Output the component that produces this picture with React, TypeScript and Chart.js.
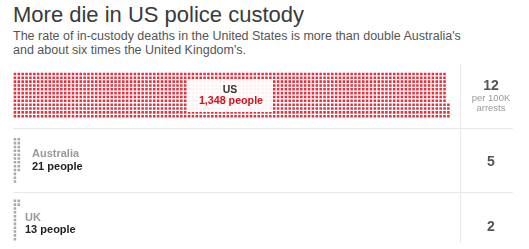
import React, { useEffect, useRef } from "react";
import { Chart, registerables } from "chart.js";
Chart.register(...registerables);

// ---- data ----
const countries = ["US", "Australia", "UK"];
const people = [1348, 21, 13];
const ratePer100K = [12, 5, 2];
const peopleLabels = ["1,348 people", "21 people", "13 people"];
const titleText = "More die in US police custody";
const subtitleLines = [
  "The rate of in-custody deaths in the United States is more than double Australia's",
  "and about six times the United Kingdom's.",
];

// ---- layout (not data) ----
const W = 529;
const H = 249;
const PITCH = 3.87;
const GRID_LEFT = 13;
const GRID_TOP = 72;
const X_UNITS = 113;
const Y_UNITS = 45;
const rowsPerColumn = [12, 12, 11];
const rowOffset = [0, 17, 33];
const remainderAtBottom = [true, false, false];
const dotColor = ["#e2323f", "#a9a9a9", "#a9a9a9"];
const FONT = "'Liberation Sans', Arial, Helvetica, sans-serif";

function buildDots(i: number) {
  const n = people[i];
  const R = rowsPerColumn[i];
  const full = Math.floor(n / R);
  const rem = n % R;
  const pts: { x: number; y: number }[] = [];
  for (let k = 0; k < n; k++) {
    const col = Math.floor(k / R);
    let r = k % R;
    if (col === full && remainderAtBottom[i]) r = R - rem + r;
    pts.push({ x: col + 0.5, y: rowOffset[i] + r + 0.5 });
  }
  return pts;
}

function T(props: {
  text: string;
  x: number;
  baseline: number;
  size: number;
  color: string;
  weight?: number | string;
  align?: "left" | "center";
  width?: number;
}) {
  const { text, x, baseline, size, color, weight = 400, align = "left", width = 80 } = props;
  const top = baseline - size / 2 - 0.3465 * size;
  const style: React.CSSProperties = {
    position: "absolute",
    top,
    fontFamily: FONT,
    fontSize: size,
    lineHeight: `${size}px`,
    color,
    fontWeight: weight as any,
    whiteSpace: "nowrap",
  };
  if (align === "center") {
    style.left = x - width / 2;
    style.width = width;
    style.textAlign = "center";
  } else {
    style.left = x;
  }
  return <div style={style}>{text}</div>;
}

export default function App() {
  const ref = useRef<HTMLCanvasElement | null>(null);

  useEffect(() => {
    document.body.style.margin = "0";
    const canvas = ref.current!;
    const chart = new Chart(canvas, {
      type: "scatter",
      data: {
        datasets: countries.map((c, i) => ({
          label: c,
          data: buildDots(i),
          pointStyle: "rect" as const,
          pointRadius: 1.8,
          pointBackgroundColor: dotColor[i],
          pointBorderWidth: 0,
          borderWidth: 0,
        })),
      },
      options: {
        animation: false,
        responsive: false,
        devicePixelRatio: 1,
        events: [],
        layout: {
          padding: {
            left: GRID_LEFT,
            right: W - (GRID_LEFT + X_UNITS * PITCH),
            top: GRID_TOP,
            bottom: H - (GRID_TOP + Y_UNITS * PITCH),
          },
        },
        plugins: { legend: { display: false }, tooltip: { enabled: false } },
        scales: {
          x: { type: "linear", min: 0, max: X_UNITS, display: false },
          y: { type: "linear", min: 0, max: Y_UNITS, reverse: true, display: false },
        },
      },
    });
    return () => chart.destroy();
  }, []);

  const line = (s: React.CSSProperties) => (
    <div style={{ position: "absolute", background: "#e8e8e8", ...s }} />
  );

  return (
    <div style={{ position: "absolute", left: 0, top: 0, width: W, height: H, background: "#fff", overflow: "hidden" }}>
      <T text={titleText} x={13} baseline={23} size={22} color="#3a3a3a" />
      <T text={subtitleLines[0]} x={13} baseline={41} size={12.5} color="#555" />
      <T text={subtitleLines[1]} x={13} baseline={54.5} size={12.5} color="#555" />
      {line({ left: 13, top: 128, width: 500, height: 1 })}
      {line({ left: 13, top: 192, width: 500, height: 1 })}
      {line({ left: 460, top: 64, width: 1, height: 179 })}
      <canvas ref={ref} width={W} height={H} style={{ position: "absolute", left: 0, top: 0, width: W, height: H }} />
      <div style={{ position: "absolute", left: 187, top: 79, width: 86, height: 33, background: "rgba(255,255,255,0.93)" }} />
      <T text={countries[0]} x={230} baseline={93} size={10.5} color="#333" weight={700} align="center" width={86} />
      <T text={peopleLabels[0]} x={231} baseline={104.5} size={10.7} color="#d4111d" weight={700} align="center" width={86} />
      <T text={countries[1]} x={32} baseline={157} size={11} color="#999" weight={700} />
      <T text={peopleLabels[1]} x={32} baseline={170} size={11} color="#222" weight={700} />
      <T text={countries[2]} x={25} baseline={221.5} size={11} color="#999" weight={700} />
      <T text={peopleLabels[2]} x={25} baseline={233} size={11} color="#222" weight={700} />
      <T text={String(ratePer100K[0])} x={491} baseline={89.5} size={14} color="#555" weight={700} align="center" />
      <T text="per 100K" x={491} baseline={101.5} size={9.5} color="#999" align="center" />
      <T text="arrests" x={491} baseline={111.5} size={9.5} color="#999" align="center" />
      <T text={String(ratePer100K[1])} x={491} baseline={166} size={14} color="#555" weight={700} align="center" />
      <T text={String(ratePer100K[2])} x={491} baseline={230.5} size={14} color="#555" weight={700} align="center" />
    </div>
  );
}
